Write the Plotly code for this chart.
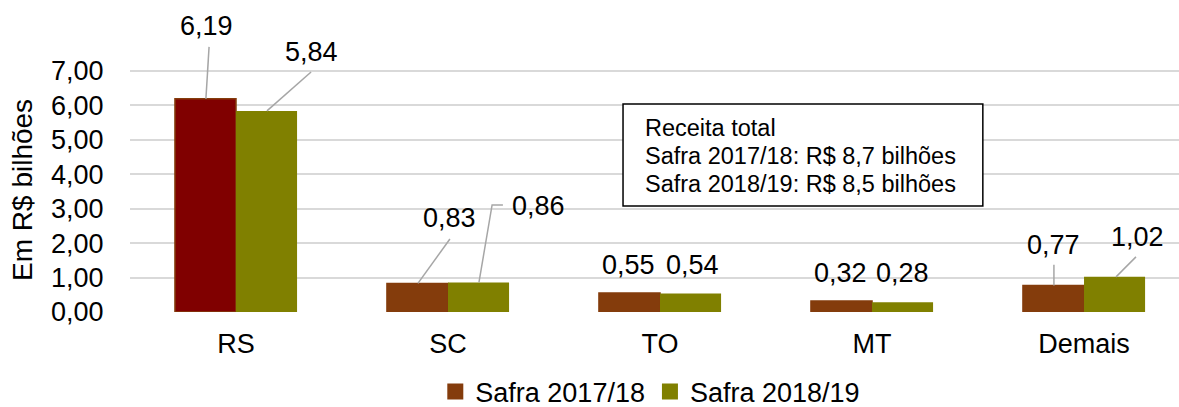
import plotly.graph_objects as go

# Receita por estado (R$ bilhões)
categorias = ["RS", "SC", "TO", "MT", "Demais"]
safra_1718 = [6.19, 0.83, 0.55, 0.32, 0.77]
safra_1819 = [5.84, 0.86, 0.54, 0.28, 1.02]
nomes = ["Safra 2017/18", "Safra 2018/19"]

y_ticks = [0, 1, 2, 3, 4, 5, 6, 7]
y_tick_labels = ["0,00", "1,00", "2,00", "3,00", "4,00", "5,00", "6,00", "7,00"]

quadro = [
    "Receita total",
    "Safra 2017/18: R$ 8,7 bilhões",
    "Safra 2018/19: R$ 8,5 bilhões",
]

MARROM = "#843C0C"
VINHO = "#800000"
OLIVA = "#808000"
GUIA = "#A6A6A6"
FONTE = "Liberation Sans, Arial, sans-serif"

x = list(range(len(categorias)))
meia = 0.144  # deslocamento do centro de cada barra no grupo

cores_1718 = [VINHO] + [MARROM] * (len(categorias) - 1)

fig = go.Figure()
fig.add_trace(go.Bar(
    x=x, y=safra_1718, name=nomes[0], showlegend=False,
    marker=dict(color=cores_1718, line=dict(color=MARROM, width=1.5)),
))
fig.add_trace(go.Bar(
    x=x, y=safra_1819, name=nomes[1], showlegend=False,
    marker=dict(color=OLIVA, line=dict(width=0)),
))
# entradas da legenda (quadrados com a cor de cada safra)
for nome, cor in zip(nomes, (MARROM, OLIVA)):
    fig.add_trace(go.Scatter(
        x=[None], y=[None], mode="markers", name=nome,
        marker=dict(symbol="square", size=17, color=cor),
    ))


def rotulo(v):
    return f"{v:.2f}".replace(".", ",")


# posição dos rótulos: (deslocamento x do texto, y do texto, linha guia)
# linha guia: lista de pontos (dx, y) a partir do topo da barra
pos_1718 = [
    (0.007, 8.31, [(0.002, None), (0.017, 7.70)]),
    (0.149, 2.73, [(0.002, None), (0.153, 2.12)]),
    (-0.007, 1.37, None),
    (-0.007, 1.13, None),
    (-0.002, 1.95, [(0.002, None), (0.002, 1.37)]),
]
pos_1819 = [
    (0.210, 7.55, [(0.002, None), (0.210, 6.97)]),
    (0.285, 3.08, [(0.002, None), (0.064, 3.11), (0.115, 3.11)]),
    (0.007, 1.37, None),
    (0.002, 1.13, None),
    (0.106, 2.18, [(0.007, None), (0.101, 1.60)]),
]

anotacoes = []
formas = []
for serie, pos, sinal in ((safra_1718, pos_1718, -1), (safra_1819, pos_1819, 1)):
    for i, v in enumerate(serie):
        cx = x[i] + sinal * meia
        dx, ty, guia = pos[i]
        anotacoes.append(dict(
            x=cx + dx, y=ty, xref="x", yref="y", text=rotulo(v),
            showarrow=False, xanchor="center", yanchor="middle",
            font=dict(size=27, color="#000000", family=FONTE),
        ))
        if guia:
            pts = [(cx + gx, v if gy is None else gy) for gx, gy in guia]
            caminho = "M " + " L ".join(f"{px},{py}" for px, py in pts)
            formas.append(dict(
                type="path", path=caminho, xref="x", yref="y",
                line=dict(color=GUIA, width=1.5), layer="above",
            ))

# quadro com a receita total
formas.append(dict(
    type="rect", xref="paper", yref="paper",
    x0=0.470, x1=0.813, y0=0.340, y1=0.667,
    line=dict(color="#000000", width=1.5), fillcolor="#FFFFFF", layer="above",
))
for k, linha in enumerate(quadro):
    anotacoes.append(dict(
        x=0.489, y=0.591 - k * 0.0897, xref="paper", yref="paper",
        text=linha, showarrow=False, align="left",
        xanchor="left", yanchor="middle",
        font=dict(size=23.5, color="#000000", family=FONTE),
    ))

# título do eixo y
anotacoes.append(dict(
    x=-0.103, y=0.391, xref="paper", yref="paper",
    text="Em R$ bilhões", textangle=-90, showarrow=False,
    xanchor="center", yanchor="middle",
    font=dict(size=28, color="#000000", family=FONTE),
))

fig.update_layout(
    width=1179, height=407,
    margin=dict(l=130, r=0, t=0, b=95, autoexpand=False),
    paper_bgcolor="#FFFFFF", plot_bgcolor="#FFFFFF",
    barmode="group", bargap=0.424, bargroupgap=0,
    font=dict(family=FONTE, size=27, color="#000000"),
    annotations=anotacoes, shapes=formas,
    showlegend=True,
    legend=dict(
        orientation="h", x=0.496, xanchor="center", y=-0.256, yanchor="middle",
        font=dict(size=27, color="#000000", family=FONTE),
        traceorder="normal", itemwidth=30,
    ),
)
fig.update_xaxes(
    range=[-0.5, 4.448], tickvals=x, ticktext=categorias,
    showgrid=False, zeroline=False, showline=False,
    ticks="outside", ticklen=8, tickcolor="rgba(0,0,0,0)",
    tickfont=dict(size=27, family=FONTE, color="#000000"),
)
fig.update_yaxes(
    range=[0, 9.06], tickvals=y_ticks, ticktext=y_tick_labels,
    showgrid=True, gridcolor="#D9D9D9", gridwidth=1.5,
    zeroline=False, showline=False,
    ticks="outside", ticklen=20, tickcolor="rgba(0,0,0,0)",
    tickfont=dict(size=27, family=FONTE, color="#000000"),
)

fig.write_html("out.html")
